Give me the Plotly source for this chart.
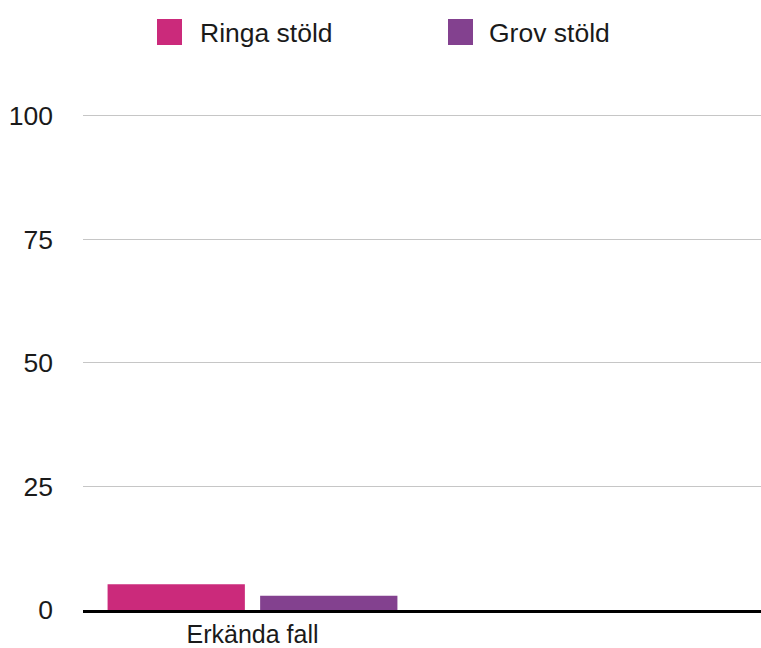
import plotly.graph_objects as go

# Chart data
categories = ["Erkända fall"]
series_names = ["Ringa stöld", "Grov stöld"]
ringa_values = [5.2]
grov_values = [2.9]
series_colors = ["#CB2A7B", "#83418F"]
y_ticks = [0, 25, 50, 75, 100]

FONT = "Helvetica Neue, Helvetica, Liberation Sans, Arial, sans-serif"
TEXT_COLOR = "#1a1a1a"
FS = 26.5

fig = go.Figure()
for name, vals, color in zip(series_names, [ringa_values, grov_values], series_colors):
    fig.add_trace(go.Bar(x=categories, y=vals, name=name,
                         marker=dict(color=color, line=dict(width=0)),
                         showlegend=False))

W, H = 761, 648
m_l, m_r, m_t, m_b = 83, 0, 111, 38
plot_w = W - m_l - m_r
plot_h = H - m_t - m_b

# Legend drawn as square swatches with labels along the top (pixel positions from the page top)
legend_items = [(series_names[0], series_colors[0], 157, 200),
                (series_names[1], series_colors[1], 448, 489)]
shapes = []
annotations = []
sw_top, sw_bot = 19, 45
for name, color, sx, tx in legend_items:
    shapes.append(dict(type="rect", xref="paper", yref="paper",
                       x0=(sx - m_l) / plot_w, x1=(sx + 25 - m_l) / plot_w,
                       y0=(H - m_b - sw_bot) / plot_h, y1=(H - m_b - sw_top) / plot_h,
                       fillcolor=color, line=dict(width=0), layer="above"))
    annotations.append(dict(xref="paper", yref="paper",
                            x=(tx - m_l) / plot_w, y=(H - m_b - 33) / plot_h,
                            xanchor="left", yanchor="middle", text=name, showarrow=False,
                            xshift=-2,
                            font=dict(family=FONT, size=FS, color=TEXT_COLOR)))

fig.update_layout(
    width=W, height=H,
    margin=dict(l=m_l, r=m_r, t=m_t, b=m_b, pad=0),
    paper_bgcolor="white", plot_bgcolor="white",
    barmode="group", bargap=0.1, bargroupgap=0.1,
    font=dict(family=FONT, size=FS, color=TEXT_COLOR),
    shapes=shapes, annotations=annotations,
    xaxis=dict(type="category", range=[-0.5, 1.5], showgrid=False,
               showline=True, linecolor="black", linewidth=3,
               ticks="", automargin=False, fixedrange=True,
               ticklabelstandoff=0,
               tickfont=dict(family=FONT, size=25, color=TEXT_COLOR)),
    yaxis=dict(range=[0, 101], tickvals=y_ticks, ticktext=[str(v) for v in y_ticks],
               showgrid=True, gridcolor="#C6C6C6", gridwidth=1,
               zeroline=False, showline=False, ticks="",
               ticklabelstandoff=29, automargin=False, fixedrange=True,
               tickfont=dict(family=FONT, size=FS, color=TEXT_COLOR)),
)

fig.write_html("out.html")
